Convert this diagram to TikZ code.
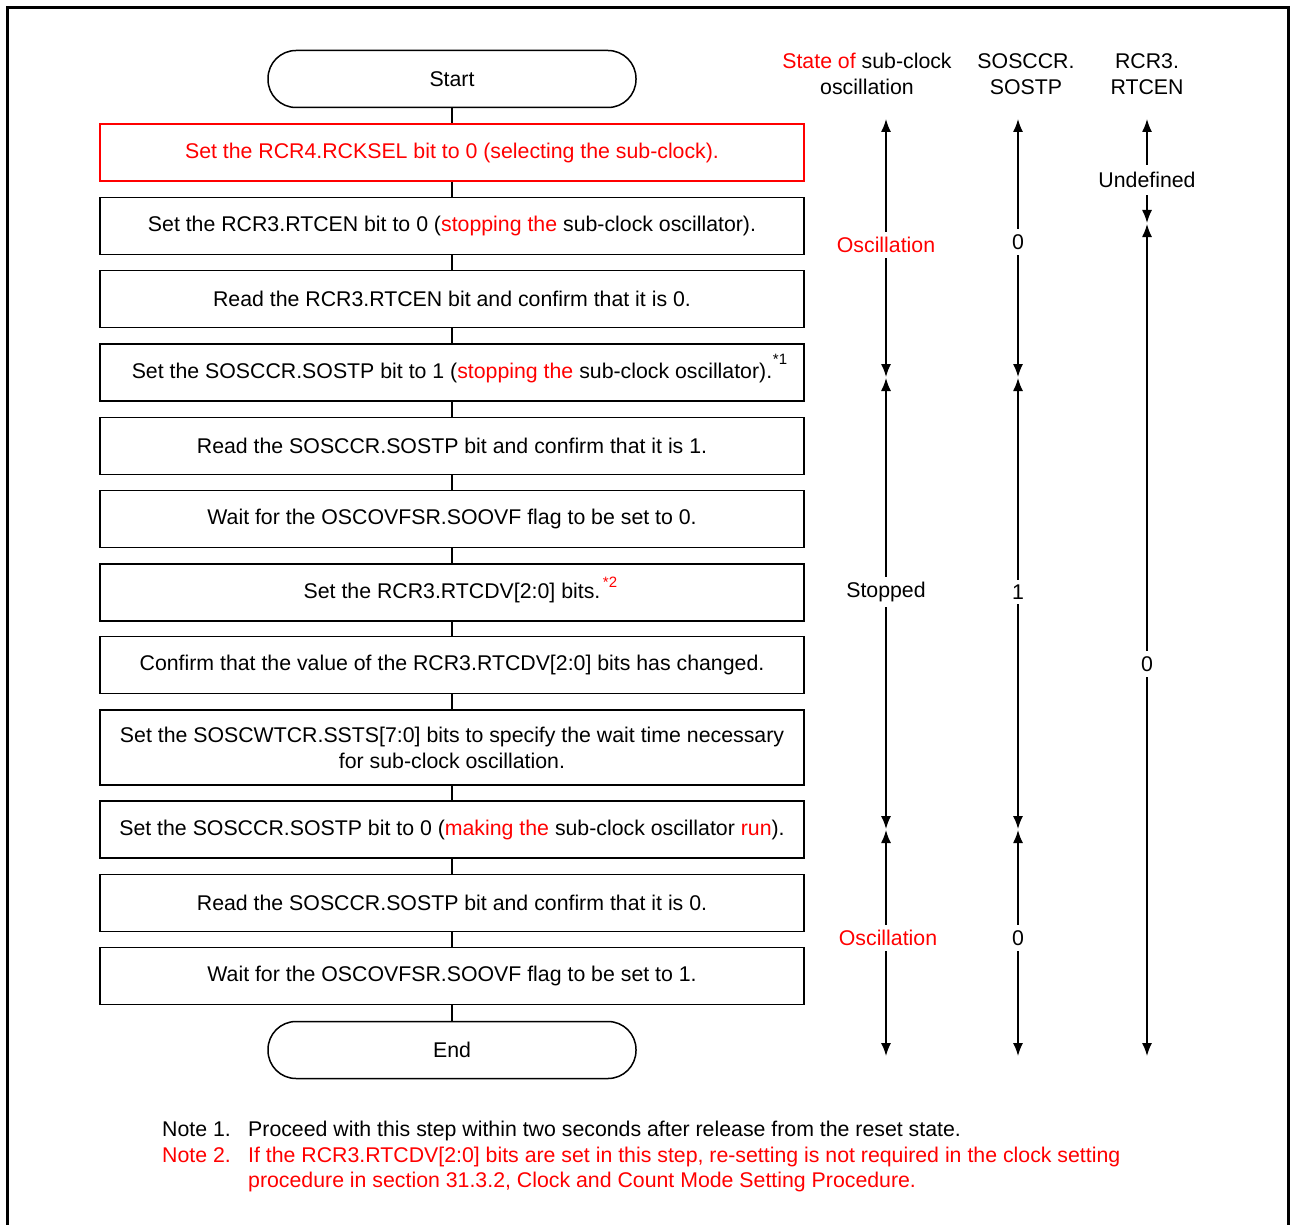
\documentclass[tikz,border=0pt]{standalone}
\usepackage{fontspec}
\setmainfont{Liberation Sans}
\usetikzlibrary{arrows.meta}
\definecolor{rred}{RGB}{255,0,0}
\begin{document}
\begin{tikzpicture}[x=1pt,y=-1pt,
  every node/.style={font=\fontsize{21.3}{26}\selectfont, inner sep=0pt},
  stepbox/.style={draw, line width=1.5pt, minimum width=704pt, minimum height=57pt, align=center},
  termbox/.style={draw, line width=1.5pt, rounded corners=28pt, minimum width=368pt, minimum height=57pt},
  conn/.style={line width=1.5pt},
  dim/.style={line width=1.5pt, {Latex[length=13pt,width=10pt]}-{Latex[length=13pt,width=10pt]}},
  lbl/.style={fill=white, inner xsep=2pt, inner ysep=5pt},
  sup/.style={font=\fontsize{15}{17}\selectfont}]
\useasboundingbox (0,0) rectangle (1290,1225);
% frame
\draw[line width=3pt] (7,1230) -- (7,8) -- (1288,8) -- (1288,1230);
% flow
\node[termbox] (start) at (452,79) {Start};
\node[stepbox, draw=rred, text=rred] (b1) at (452,152.5) {Set the RCR4.RCKSEL bit to 0 (selecting the sub-clock).};
\node[stepbox] (b2) at (452,226) {Set the RCR3.RTCEN bit to 0 (\textcolor{rred}{stopping the} sub-clock oscillator).};
\node[stepbox] (b3) at (452,299) {Read the RCR3.RTCEN bit and confirm that it is 0.};
\node[stepbox] (b4) at (452,372.5) {Set the SOSCCR.SOSTP bit to 1 (\textcolor{rred}{stopping the} sub-clock oscillator).};
\node[stepbox] (b5) at (452,446) {Read the SOSCCR.SOSTP bit and confirm that it is 1.};
\node[stepbox] (b6) at (452,519) {Wait for the OSCOVFSR.SOOVF flag to be set to 0.};
\node[stepbox] (b7) at (452,592.5) {Set the RCR3.RTCDV[2:0] bits.};
\node[stepbox] (b8) at (452,665) {Confirm that the value of the RCR3.RTCDV[2:0] bits has changed.};
\node[stepbox, minimum height=75pt] (b9) at (452,747.5) {Set the SOSCWTCR.SSTS[7:0] bits to specify the wait time necessary\\for sub-clock oscillation.};
\node[stepbox] (b10) at (452,829.5) {Set the SOSCCR.SOSTP bit to 0 (\textcolor{rred}{making the} sub-clock oscillator \textcolor{rred}{run}).};
\node[stepbox] (b11) at (452,903) {Read the SOSCCR.SOSTP bit and confirm that it is 0.};
\node[stepbox] (b12) at (452,976) {Wait for the OSCOVFSR.SOOVF flag to be set to 1.};
\node[termbox] (end) at (452,1050) {End};
\node[sup] (s1) at (780,359) {*1};
\node[sup, text=rred] (s2) at (610,582) {*2};
\foreach \a/\b in {start/b1,b1/b2,b2/b3,b3/b4,b4/b5,b5/b6,b6/b7,b7/b8,b8/b9,b9/b10,b10/b11,b11/b12,b12/end}
  \draw[conn] (\a) -- (\b);
% headers
\node[anchor=base, align=center] (h1a) at (867,69) {\textcolor{rred}{State of} sub-clock};
\node[anchor=base] (h1b) at (867,95) {oscillation};
\node[anchor=base] (h2a) at (1026,69) {SOSCCR.};
\node[anchor=base] (h2b) at (1026,95) {SOSTP};
\node[anchor=base] (h3a) at (1147,69) {RCR3.};
\node[anchor=base] (h3b) at (1147,95) {RTCEN};
% state column
\coordinate (a0) at (886,119); \coordinate (a1) at (886,377);
\coordinate (a2) at (886,378); \coordinate (a3) at (886,829);
\coordinate (a4) at (886,830); \coordinate (a5) at (886,1056);
\draw[dim] (a0) -- (a1);
\draw[dim] (a2) -- (a3);
\draw[dim] (a4) -- (a5);
\node[lbl, text=rred] (l1) at (886,245) {Oscillation};
\node[lbl] (l2) at (886,592) {Stopped};
\node[lbl, text=rred] (l3) at (888,938) {Oscillation};
% SOSTP column
\coordinate (c0) at (1018,119); \coordinate (c1) at (1018,377);
\coordinate (c2) at (1018,378); \coordinate (c3) at (1018,829);
\coordinate (c4) at (1018,830); \coordinate (c5) at (1018,1056);
\draw[dim] (c0) -- (c1);
\draw[dim] (c2) -- (c3);
\draw[dim] (c4) -- (c5);
\node[lbl] (m1) at (1018,242) {0};
\node[lbl] (m2) at (1018,592) {1};
\node[lbl] (m3) at (1018,938) {0};
% RTCEN column
\coordinate (r0) at (1147,119); \coordinate (r1) at (1147,223);
\coordinate (r2) at (1147,224); \coordinate (r3) at (1147,1056);
\draw[dim] (r0) -- (r1);
\draw[dim] (r2) -- (r3);
\node[lbl, inner ysep=7pt] (n1) at (1147,180) {Undefined};
\node[lbl] (n2) at (1147,664) {0};
% notes
\node[anchor=base west] (n1a) at (162,1136) {Note 1.};
\node[anchor=base west] (n1b) at (248,1136) {Proceed with this step within two seconds after release from the reset state.};
\node[anchor=base west, text=rred] (n2a) at (162,1162) {Note 2.};
\node[anchor=base west, text=rred] (n2b) at (248,1162) {If the RCR3.RTCDV[2:0] bits are set in this step, re-setting is not required in the clock setting};
\node[anchor=base west, text=rred] (n2c) at (248,1187) {procedure in section 31.3.2, Clock and Count Mode Setting Procedure.};
\end{tikzpicture}
\end{document}
